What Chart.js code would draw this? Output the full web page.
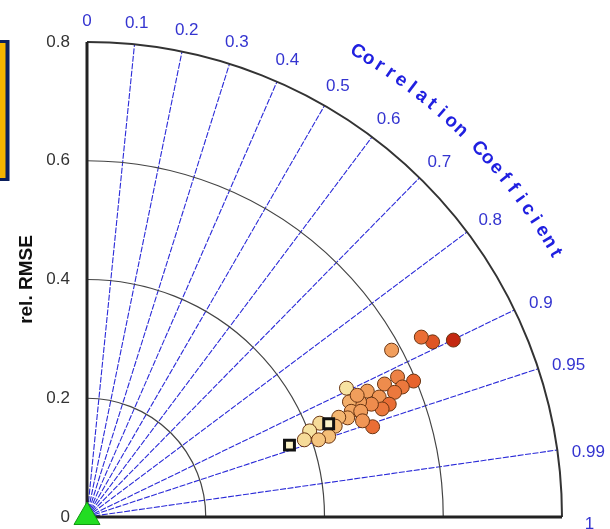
<!DOCTYPE html>
<html>
<head>
<meta charset="utf-8">
<script src="https://cdn.jsdelivr.net/npm/chart.js@4/dist/chart.umd.min.js"></script>
<style>
  html, body { margin: 0; padding: 0; background: #fff; }
</style>
</head>
<body>
<canvas id="taylorChart" width="610" height="529"></canvas>
<script>
// correlation ticks around the arc, rel. RMSE ticks on the y axis
const corrTicks = [0, 0.1, 0.2, 0.3, 0.4, 0.5, 0.6, 0.7, 0.8, 0.9, 0.95, 0.99, 1];
const rmseTicks = [0, 0.2, 0.4, 0.6, 0.8];
const arcTicks = [0.2, 0.4, 0.6];

// model points (x, y in diagram units) and their colour value 0..1
const modelX = [0.617, 0.582, 0.563, 0.513, 0.550, 0.523, 0.501, 0.531, 0.518, 0.472,
                0.492, 0.509, 0.497, 0.479, 0.459, 0.442, 0.445, 0.461, 0.481, 0.464,
                0.439, 0.424, 0.418, 0.437, 0.392, 0.375, 0.407, 0.390, 0.366, 0.455];
const modelY = [0.298, 0.295, 0.303, 0.281, 0.229, 0.236, 0.224, 0.219, 0.210, 0.212,
                0.202, 0.190, 0.182, 0.190, 0.194, 0.194, 0.178, 0.178, 0.152, 0.162,
                0.167, 0.168, 0.153, 0.217, 0.158, 0.145, 0.136, 0.130, 0.130, 0.205];
const modelTone = [1.0, 0.85, 0.75, 0.5, 0.8, 0.65, 0.6, 0.7, 0.7, 0.5,
                   0.55, 0.75, 0.7, 0.6, 0.5, 0.4, 0.45, 0.5, 0.75, 0.55,
                   0.4, 0.35, 0.3, 0.05, 0.1, 0.05, 0.3, 0.25, 0.1, 0.5];

// square markers and the reference (triangle)
const refX = [0.341, 0.407];
const refY = [0.121, 0.157];
const obsX = [0];
const obsY = [0];

const toneStops = [
  [0.0, [247, 234, 170]],
  [0.3, [245, 190, 120]],
  [0.55, [240, 150, 85]],
  [0.8, [232, 100, 45]],
  [1.0, [196, 40, 16]]
];
function toneColor(t) {
  for (let i = 1; i < toneStops.length; i++) {
    const [t1, c1] = toneStops[i];
    const [t0, c0] = toneStops[i - 1];
    if (t <= t1) {
      const f = (t - t0) / (t1 - t0);
      const c = c0.map((v, j) => Math.round(v + (c1[j] - v) * f));
      return 'rgb(' + c.join(',') + ')';
    }
  }
  return 'rgb(196,40,16)';
}

const taylorGrid = {
  id: 'taylorGrid',
  beforeDatasetsDraw(chart) {
    const ctx = chart.ctx;
    const x = chart.scales.x, y = chart.scales.y;
    const ox = x.getPixelForValue(0), oy = y.getPixelForValue(0);
    const rmax = rmseTicks[rmseTicks.length - 1];
    const R = oy - y.getPixelForValue(rmax);
    ctx.save();

    // radial correlation lines
    ctx.strokeStyle = '#2a2ad8';
    ctx.lineWidth = 1.1;
    ctx.setLineDash([6, 1.5]);
    corrTicks.forEach(c => {
      if (c === 0 || c === 1) return;
      const a = Math.acos(c);
      ctx.beginPath();
      ctx.moveTo(ox, oy);
      ctx.lineTo(ox + R * Math.cos(a), oy - R * Math.sin(a));
      ctx.stroke();
    });
    ctx.setLineDash([]);

    // inner arcs
    ctx.strokeStyle = '#444';
    ctx.lineWidth = 1.2;
    arcTicks.forEach(r => {
      const rp = oy - y.getPixelForValue(r);
      ctx.beginPath();
      ctx.arc(ox, oy, rp, -Math.PI / 2, 0);
      ctx.stroke();
    });

    // outer arc
    ctx.strokeStyle = '#333';
    ctx.lineWidth = 2;
    ctx.beginPath();
    ctx.arc(ox, oy, R, -Math.PI / 2, 0);
    ctx.stroke();

    // axes
    ctx.strokeStyle = '#222';
    ctx.lineWidth = 3;
    ctx.beginPath();
    ctx.moveTo(ox, oy - R);
    ctx.lineTo(ox, oy);
    ctx.lineTo(ox + R, oy);
    ctx.stroke();

    // correlation labels
    ctx.fillStyle = '#3434d0';
    ctx.font = '17px "Liberation Sans", Arial, sans-serif';
    ctx.textAlign = 'center';
    ctx.textBaseline = 'middle';
    corrTicks.forEach(c => {
      const a = Math.acos(c);
      const txt = String(c);
      const w = Math.max(ctx.measureText(txt).width, 27);
      const d = 14 + w / 2 * Math.cos(a) + 7 * Math.sin(a);
      ctx.fillText(txt, ox + (R + d) * Math.cos(a), oy - (R + d) * Math.sin(a) + 7 * Math.cos(a));
    });

    // curved title
    const title = 'Correlation Coefficient';
    const a0 = 59.8 * Math.PI / 180, a1 = 29.4 * Math.PI / 180;
    const rt = R + 63;
    ctx.font = 'bold 19px "Liberation Sans", Arial, sans-serif';
    ctx.fillStyle = '#2020e0';
    for (let i = 0; i < title.length; i++) {
      const a = a0 + (a1 - a0) * i / (title.length - 1);
      ctx.save();
      ctx.translate(ox + rt * Math.cos(a), oy - rt * Math.sin(a));
      ctx.rotate(Math.PI / 2 - a);
      ctx.fillText(title[i], 0, 0);
      ctx.restore();
    }
    ctx.restore();
  },
  afterDraw(chart) {
    // framed box cut by the left edge
    const ctx = chart.ctx;
    ctx.save();
    ctx.fillStyle = '#0b1f5c';
    ctx.fillRect(-10, 40, 19.5, 141);
    ctx.fillStyle = '#f4b400';
    ctx.fillRect(-10, 43, 15.5, 135);
    ctx.restore();
  }
};

const ctx = document.getElementById('taylorChart').getContext('2d');
new Chart(ctx, {
  type: 'scatter',
  data: {
    datasets: [
      {
        label: 'reference',
        data: obsX.map((v, i) => ({ x: v, y: obsY[i] })),
        pointStyle: 'triangle',
        pointRadius: 15,
        backgroundColor: '#22dd22',
        borderColor: '#119911',
        borderWidth: 1,
        clip: false
      },
      {
        label: 'squares',
        data: refX.map((v, i) => ({ x: v, y: refY[i] })),
        pointStyle: 'rect',
        pointRadius: 7,
        backgroundColor: '#fbf3c8',
        borderColor: '#111',
        borderWidth: 3,
        clip: false
      },
      {
        label: 'models',
        data: modelX.map((v, i) => ({ x: v, y: modelY[i] })),
        pointRadius: 7,
        backgroundColor: modelTone.map(toneColor),
        borderColor: '#6a3512',
        borderWidth: 1,
        clip: false
      }
    ]
  },
  options: {
    responsive: false,
    animation: false,
    layout: { autoPadding: false, padding: { top: 42, right: 0, bottom: 12, left: 0 } },
    scales: {
      x: {
        type: 'linear',
        display: false,
        min: 0,
        max: 0.8808
      },
      y: {
        min: 0,
        max: 0.8,
        afterFit: function(scale) {
          scale.width = 87;
          scale.paddingTop = 0;
          scale.paddingBottom = 0;
        },
        grid: { display: false },
        border: { display: false },
        ticks: {
          stepSize: 0.2,
          padding: 9,
          color: '#333',
          font: { size: 17, family: '"Liberation Sans", Arial, sans-serif' },
          callback: function(value) {
            return value === 0 ? '0' : value.toFixed(1);
          }
        },
        title: {
          display: true,
          text: 'rel. RMSE',
          color: '#111',
          padding: { top: 15, bottom: 0 },
          font: { size: 19, weight: 'bold', family: '"Liberation Sans", Arial, sans-serif' }
        }
      }
    },
    plugins: {
      legend: { display: false },
      tooltip: { enabled: false }
    }
  },
  plugins: [taylorGrid]
});
</script>
</body>
</html>
